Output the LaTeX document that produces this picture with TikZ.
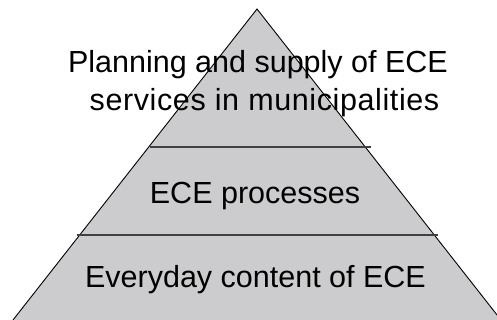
\documentclass[tikz,border=0pt]{standalone}
\usepackage{fontspec}
\setmainfont{Liberation Sans}
\definecolor{pyrgray}{RGB}{204,204,206}
\begin{document}
\begin{tikzpicture}[x=1pt,y=1pt,
  lbl/.style={font=\fontsize{30.5}{38}\selectfont,inner sep=0pt,align=center}]%金字塔三层
\useasboundingbox (0,0) rectangle (497,320);
\clip (0,0) rectangle (497,320);
\filldraw[fill=pyrgray,draw=black,line width=0.9pt] (13,0) -- (257,311) -- (501,0);
\draw[line width=1.1pt,black!75] (150,173) -- (371,173);
\draw[line width=1.1pt,black!75] (77,85) -- (438,85);
\node[lbl,anchor=north] (plan) at (258,270) {Planning and supply of ECE\\
  \hspace*{13pt}{\addfontfeature{LetterSpace=2.0}services in municipalities}};
\node[lbl,anchor=base] (proc) at (255,116) {ECE processes};
\node[lbl,anchor=base] (daily) at (255.5,32) {Everyday content of ECE};
\end{tikzpicture}
\end{document}
